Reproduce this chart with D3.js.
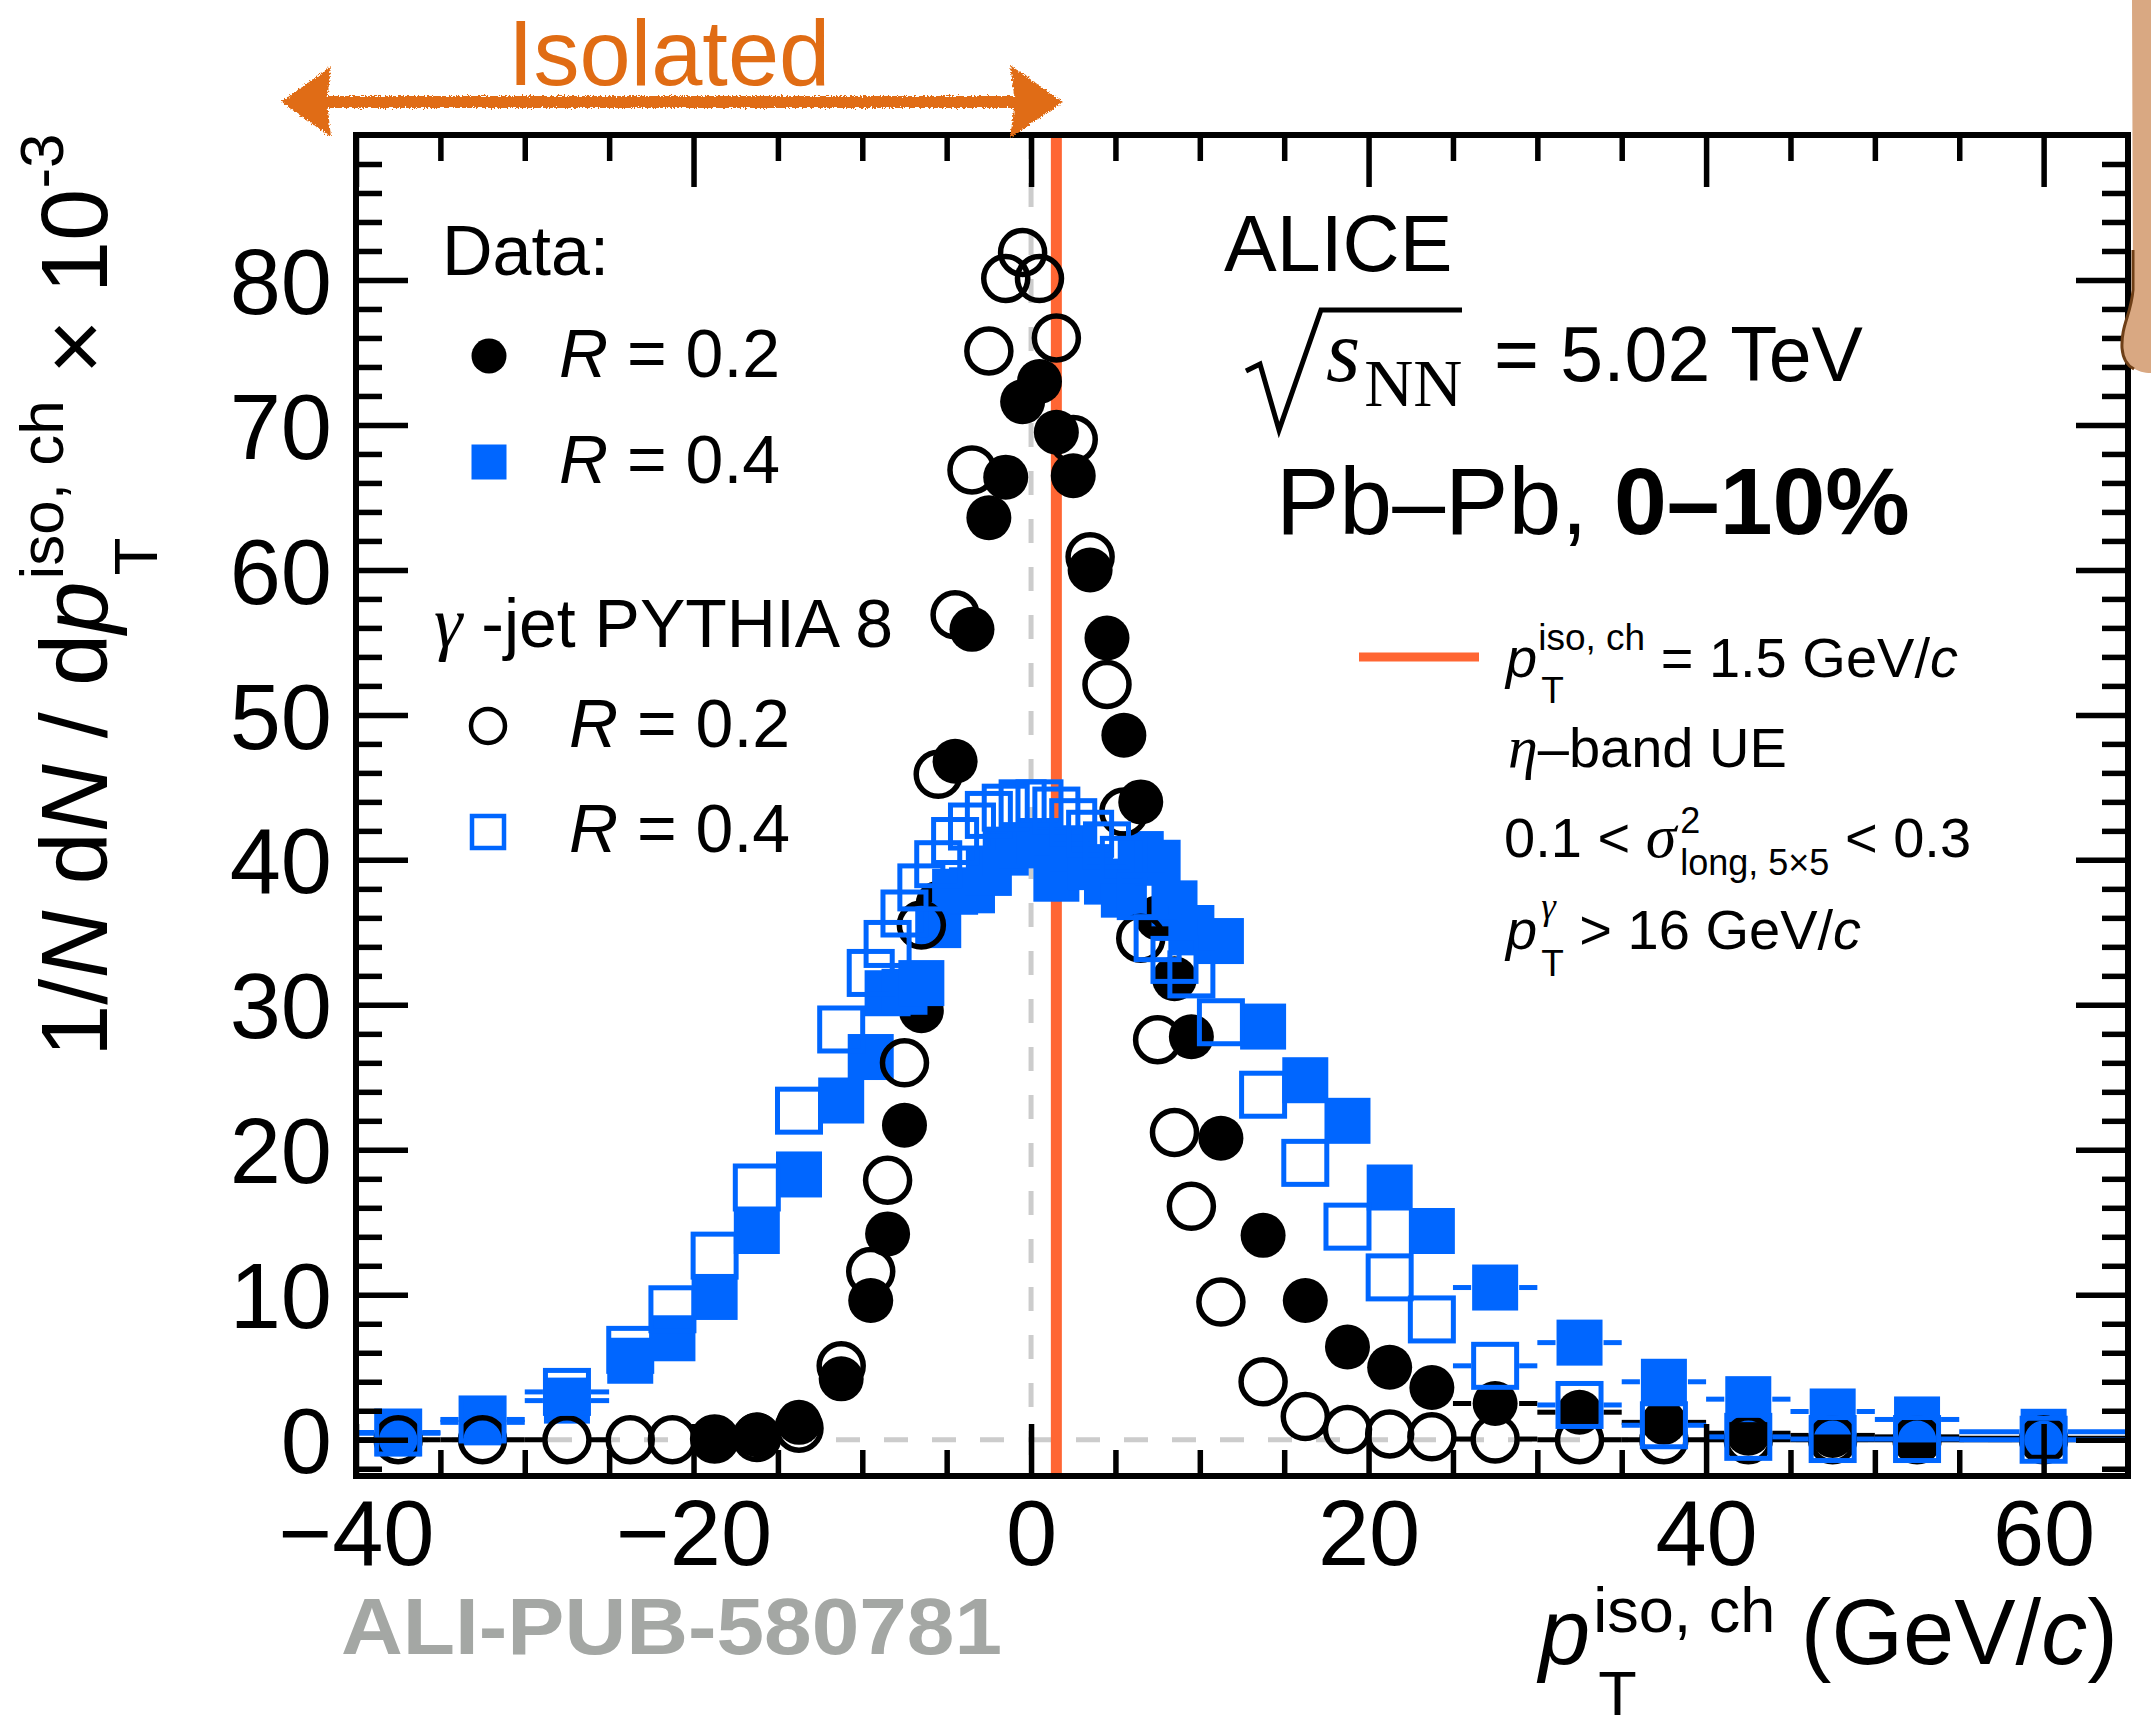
<!DOCTYPE html>
<html>
<head>
<meta charset="utf-8">
<script src="https://cdn.jsdelivr.net/npm/d3@7"></script>
<style>
  html, body { margin: 0; padding: 0; background: #ffffff; }
  svg { display: block; }
  text { font-family: "Liberation Sans", Arial, Helvetica, sans-serif; white-space: pre; }
</style>
</head>
<body>
<svg id="chart" width="2151" height="1728"></svg>
<script>
// ---------------- DATA ----------------
const binCenters = [-37.5, -32.5, -27.5,
  -23.75, -21.25, -18.75, -16.25, -13.75, -11.25,
  -9.5, -8.5, -7.5, -6.5, -5.5, -4.5, -3.5, -2.5, -1.5, -0.5,
  0.5, 1.5, 2.5, 3.5, 4.5, 5.5, 6.5, 7.5, 8.5, 9.5,
  11.25, 13.75, 16.25, 18.75, 21.25, 23.75,
  27.5, 32.5, 37.5, 42.5, 47.5, 52.5,
  60];
const binHalfWidths = [2.5, 2.5, 2.5,
  1.25, 1.25, 1.25, 1.25, 1.25, 1.25,
  0.5, 0.5, 0.5, 0.5, 0.5, 0.5, 0.5, 0.5, 0.5, 0.5,
  0.5, 0.5, 0.5, 0.5, 0.5, 0.5, 0.5, 0.5, 0.5, 0.5,
  1.25, 1.25, 1.25, 1.25, 1.25, 1.25,
  2.5, 2.5, 2.5, 2.5, 2.5, 2.5,
  5];
// Data, R = 0.2 (filled circles); null = no point
const dataR02 = [null, null, null,
  null, null, 0.05, 0.34, 1.2, 4.2,
  9.6, 14.2, 21.7, 29.6, 37.0, 46.8, 55.9, 63.6, 66.4, 71.6,
  73.0, 69.5, 66.5, 60.0, 55.3, 48.6, 44.0, 36.0, 31.8, 27.8,
  20.8, 14.1, 9.6, 6.4, 5.0, 3.6,
  2.5, 1.9, 1.2, 0.45, 0.3, 0.2,
  0.1];
// Data, R = 0.4 (filled squares)
const dataR04 = [0.45, 1.2, 2.7,
  5.45, 7.0, 9.85, 14.4, 18.3, 23.4,
  26.4, 30.8, 30.9, 31.5, 35.5, 37.8, 37.9, 39.1, 40.5, 41.0,
  41.3, 38.7, 40.8, 39.5, 38.5, 37.6, 40.4, 39.8, 37.0, 35.3,
  34.4, 28.5, 24.8, 22.0, 17.4, 14.4,
  10.5, 6.7, 4.0, 2.8, 1.95, 1.4,
  0.55];
// gamma-jet PYTHIA 8, R = 0.2 (open circles)
const pythiaR02 = [0, 0, 0,
  0, 0, 0.05, 0.15, 0.8, 5.1,
  11.6, 17.9, 26.0, 35.5, 45.9, 56.9, 66.9, 75.1, 80.1, 81.9,
  80.1, 76.0, 69.0, 60.9, 52.1, 43.3, 34.6, 27.6, 21.2, 16.1,
  9.5, 4.0, 1.6, 0.7, 0.4, 0.2,
  0.05, 0, 0, 0, 0, 0,
  0];
// gamma-jet PYTHIA 8, R = 0.4 (open squares)
const pythiaR04 = [0.5, 1.4, 3.3,
  6.2, 9.0, 12.7, 17.4, 22.7, 28.3,
  32.2, 34.2, 36.3, 38.1, 39.7, 41.3, 42.3, 43.1, 43.6, 43.9,
  43.9, 43.4, 42.6, 41.8, 41.0, 40.0, 37.5, 34.6, 33.1, 32.1,
  28.8, 23.8, 19.1, 14.7, 11.2, 8.3,
  5.1, 2.4, 1.0, 0.2, 0.05, 0.05,
  0];
const xDomain = [-40, 65];
const yDomain = [-2.5, 90];
const xMajorTicks = [-40, -20, 0, 20, 40, 60];
const xMinorTicks = [-35, -30, -25, -15, -10, -5, 5, 10, 15, 25, 30, 35, 45, 50, 55];
const yMajorTicks = [0, 10, 20, 30, 40, 50, 60, 70, 80];
const yMinorTicks = [-2, 2, 4, 6, 8, 12, 14, 16, 18, 22, 24, 26, 28, 32, 34, 36, 38, 42, 44, 46, 48,
  52, 54, 56, 58, 62, 64, 66, 68, 72, 74, 76, 78, 82, 84, 86, 88];
const isoCut = 1.5;

// ---------------- SETUP ----------------
const BLUE = "#0066ff";
const ORANGE = "#ff6633";
const ARROW = "#e06c14";
const svg = d3.select("#chart");
const L = 356, R = 2128, T = 135, B = 1476;
const x = d3.scaleLinear().domain(xDomain).range([L, R]);
const y = d3.scaleLinear().domain(yDomain).range([B, T]);

const defs = svg.append("defs");
defs.append("clipPath").attr("id", "plotclip")
  .append("rect").attr("x", L).attr("y", T).attr("width", R - L).attr("height", B - T);
const rough = defs.append("filter").attr("id", "rough")
  .attr("x", "-5%").attr("y", "-30%").attr("width", "110%").attr("height", "160%");
rough.append("feTurbulence").attr("type", "fractalNoise").attr("baseFrequency", "0.55")
  .attr("numOctaves", 2).attr("seed", 4).attr("result", "noise");
rough.append("feDisplacementMap").attr("in", "SourceGraphic").attr("in2", "noise")
  .attr("scale", 6).attr("xChannelSelector", "R").attr("yChannelSelector", "G");

// text helpers: every chain is one <text> made of positioned <tspan>s
function styleT(t, s) {
  t.attr("font-size", s.size).attr("fill", s.fill || "#000");
  if (s.italic) t.attr("font-style", "italic");
  if (s.bold) t.attr("font-weight", "bold");
  if (s.family) t.attr("font-family", s.family);
  return t;
}
function chain(g, x0, y0, segs) {
  const t = g.append("text");
  let cx = x0;
  const span = (p, px) => styleT(t.append("tspan").attr("x", px).attr("y", y0 + (p.dy || 0)).text(p.t), p);
  for (const s of segs) {
    if (s.stack) {
      let wmax = 0;
      for (const p of s.stack) {
        const ts = span(p, cx + (p.dx || 0));
        wmax = Math.max(wmax, (p.dx || 0) + ts.node().getComputedTextLength());
      }
      cx += wmax;
    } else {
      const ts = span(s, cx + (s.dx || 0));
      cx += (s.dx || 0) + ts.node().getComputedTextLength();
    }
  }
  return t;
}
const SERIF = "'Liberation Serif', 'DejaVu Serif', serif";

// ---------------- REFERENCE LINES ----------------
const refG = svg.append("g").attr("clip-path", "url(#plotclip)");
refG.append("line").attr("x1", L).attr("x2", R).attr("y1", y(0)).attr("y2", y(0))
  .attr("stroke", "#cccccc").attr("stroke-width", 5).attr("stroke-dasharray", "24,24");
refG.append("line").attr("x1", x(0)).attr("x2", x(0)).attr("y1", T).attr("y2", B)
  .attr("stroke", "#cccccc").attr("stroke-width", 5).attr("stroke-dasharray", "24,24");
refG.append("line").attr("x1", x(isoCut)).attr("x2", x(isoCut)).attr("y1", T).attr("y2", B)
  .attr("stroke", ORANGE).attr("stroke-width", 11);

// ---------------- SERIES ----------------
const plotG = svg.append("g").attr("clip-path", "url(#plotclip)");
function points(vals) {
  return binCenters.map((c, i) => ({ c, hw: binHalfWidths[i], v: vals[i] })).filter(d => d.v !== null);
}
function drawSeries(vals, color, marker) {
  const pts = points(vals);
  const half = 24; // marker half-extent: error bars are not drawn through the marker
  const segs = [];
  pts.forEach(d => {
    const xc = x(d.c), xl = x(d.c - d.hw), xr = x(d.c + d.hw);
    if (xc - half > xl) segs.push({ x1: xl, x2: xc - half, yv: y(d.v) });
    if (xr > xc + half) segs.push({ x1: xc + half, x2: xr, yv: y(d.v) });
  });
  const g = plotG.append("g");
  g.selectAll("line").data(segs).join("line")
    .attr("x1", d => d.x1).attr("x2", d => d.x2)
    .attr("y1", d => d.yv).attr("y2", d => d.yv)
    .attr("stroke", color).attr("stroke-width", 5);
  if (marker === "fcircle") {
    g.selectAll("circle").data(pts).join("circle")
      .attr("cx", d => x(d.c)).attr("cy", d => y(d.v)).attr("r", 22.5).attr("fill", color);
  } else if (marker === "ocircle") {
    g.selectAll("circle").data(pts).join("circle")
      .attr("cx", d => x(d.c)).attr("cy", d => y(d.v)).attr("r", 22).attr("fill", "none")
      .attr("stroke", color).attr("stroke-width", 5.5);
  } else if (marker === "fsquare") {
    g.selectAll("rect").data(pts).join("rect")
      .attr("x", d => x(d.c) - 23).attr("y", d => y(d.v) - 23).attr("width", 46).attr("height", 46)
      .attr("fill", color);
  } else {
    g.selectAll("rect").data(pts).join("rect")
      .attr("x", d => x(d.c) - 21.5).attr("y", d => y(d.v) - 21.5).attr("width", 43).attr("height", 43)
      .attr("fill", "none").attr("stroke", color).attr("stroke-width", 5);
  }
}
drawSeries(dataR02, "#000000", "fcircle");
drawSeries(dataR04, BLUE, "fsquare");
drawSeries(pythiaR02, "#000000", "ocircle");
drawSeries(pythiaR04, BLUE, "osquare");

// ---------------- AXES & FRAME ----------------
function styleAxis(sel) {
  sel.select(".domain").remove();
  sel.selectAll(".tick line").attr("stroke", "#000").attr("stroke-width", 5.5);
  sel.selectAll(".tick text").attr("fill", "#000").attr("font-size", 92)
    .attr("font-family", "'Liberation Sans', Arial, Helvetica, sans-serif");
}
const fmt = d3.format("d");
svg.append("g").attr("transform", `translate(0,${B})`)
  .call(d3.axisBottom(x).tickValues(xMajorTicks).tickSize(-52).tickPadding(24).tickFormat(fmt))
  .call(styleAxis);
svg.append("g").attr("transform", `translate(0,${B})`)
  .call(d3.axisBottom(x).tickValues(xMinorTicks).tickSize(-26).tickFormat(""))
  .call(styleAxis);
svg.append("g").attr("transform", `translate(0,${T})`)
  .call(d3.axisTop(x).tickValues(xMajorTicks).tickSize(-52).tickFormat(""))
  .call(styleAxis);
svg.append("g").attr("transform", `translate(0,${T})`)
  .call(d3.axisTop(x).tickValues(xMinorTicks).tickSize(-26).tickFormat(""))
  .call(styleAxis);
const yl = svg.append("g").attr("transform", `translate(${L},0)`)
  .call(d3.axisLeft(y).tickValues(yMajorTicks).tickSize(-52).tickPadding(24).tickFormat(fmt))
  .call(styleAxis);
yl.selectAll(".tick text").attr("dy", "0.36em");
svg.append("g").attr("transform", `translate(${L},0)`)
  .call(d3.axisLeft(y).tickValues(yMinorTicks).tickSize(-26).tickFormat(""))
  .call(styleAxis);
svg.append("g").attr("transform", `translate(${R},0)`)
  .call(d3.axisRight(y).tickValues(yMajorTicks).tickSize(-52).tickFormat(""))
  .call(styleAxis);
svg.append("g").attr("transform", `translate(${R},0)`)
  .call(d3.axisRight(y).tickValues(yMinorTicks).tickSize(-26).tickFormat(""))
  .call(styleAxis);
svg.append("rect").attr("x", L).attr("y", T).attr("width", R - L).attr("height", B - T)
  .attr("fill", "none").attr("stroke", "#000").attr("stroke-width", 6);

// ---------------- AXIS TITLES ----------------
const ytG = svg.append("g").attr("transform", "translate(107,1057) rotate(-90)");
chain(ytG, 0, 0, [
  { t: "1/", size: 94 }, { t: "N", size: 94, italic: true }, { t: " d", size: 94 },
  { t: "N", size: 94, italic: true }, { t: " / d", size: 94 }, { t: "p", size: 94, italic: true },
  { stack: [{ t: "iso, ch", size: 62, dy: -44, dx: 2 }, { t: "T", size: 62, dy: 50, dx: 6 }] },
  { t: " × 10", size: 94 }, { t: "-3", size: 62, dy: -44 }
]);
const xtG = svg.append("g");
chain(xtG, 1539, 1664, [
  { t: "p", size: 92, italic: true },
  { stack: [{ t: "iso, ch", size: 63, dy: -32, dx: 3 }, { t: "T", size: 63, dy: 51, dx: 8 }] },
  { t: " (GeV/", size: 92 }, { t: "c", size: 92, italic: true }, { t: ")", size: 92 }
]);
svg.append("text").attr("x", 341).attr("y", 1654).attr("font-size", 79)
  .attr("font-family", "'Liberation Mono', 'DejaVu Sans Mono', monospace").attr("font-weight", "bold")
  .attr("fill", "#a4a7a4").attr("textLength", 661).attr("lengthAdjust", "spacingAndGlyphs")
  .text("ALI-PUB-580781");

// ---------------- LEFT LEGEND ----------------
const lg = svg.append("g");
chain(lg, 442, 275, [{ t: "Data:", size: 70 }]);
lg.append("circle").attr("cx", 489).attr("cy", 356).attr("r", 17.5).attr("fill", "#000");
chain(lg, 559, 377, [{ t: "R", size: 68, italic: true }, { t: " = 0.2", size: 68 }]);
lg.append("rect").attr("x", 489 - 17.5).attr("y", 462 - 17.5).attr("width", 35).attr("height", 35).attr("fill", BLUE);
chain(lg, 559, 483, [{ t: "R", size: 68, italic: true }, { t: " = 0.4", size: 68 }]);
chain(lg, 434, 647, [{ t: "γ", size: 72, italic: true, family: SERIF }, { t: " -jet PYTHIA 8", size: 68 }]);
lg.append("circle").attr("cx", 488).attr("cy", 726).attr("r", 17).attr("fill", "none")
  .attr("stroke", "#000").attr("stroke-width", 4.5);
chain(lg, 569, 747, [{ t: "R", size: 68, italic: true }, { t: " = 0.2", size: 68 }]);
lg.append("rect").attr("x", 488 - 16).attr("y", 832 - 16).attr("width", 32).attr("height", 32)
  .attr("fill", "none").attr("stroke", BLUE).attr("stroke-width", 4.5);
chain(lg, 569, 852, [{ t: "R", size: 68, italic: true }, { t: " = 0.4", size: 68 }]);

// ---------------- ALICE BLOCK ----------------
const ag = svg.append("g");
chain(ag, 1224, 271, [{ t: "ALICE", size: 79 }]);
ag.append("path").attr("d", "M1246,371 L1260,364 L1279,430 L1321,310 L1462,310")
  .attr("fill", "none").attr("stroke", "#000").attr("stroke-width", 5).attr("stroke-linejoin", "miter");
chain(ag, 1326, 381, [
  { t: "s", size: 88, italic: true, family: SERIF },
  { t: "NN", size: 68, family: SERIF, dy: 25, dx: 4 }
]);
chain(ag, 1494, 381, [{ t: "= 5.02 TeV", size: 77 }]);
chain(ag, 1276, 534, [{ t: "Pb–Pb, ", size: 95 }, { t: "0–10%", size: 95, bold: true }]);

// ---------------- RIGHT LEGEND ----------------
const rg = svg.append("g");
rg.append("line").attr("x1", 1359).attr("x2", 1479).attr("y1", 657).attr("y2", 657)
  .attr("stroke", ORANGE).attr("stroke-width", 9);
chain(rg, 1506, 677, [
  { t: "p", size: 56, italic: true },
  { stack: [{ t: "iso, ch", size: 37, dy: -27, dx: 1 }, { t: "T", size: 37, dy: 26, dx: 4 }] },
  { t: " = 1.5 GeV/", size: 56 }, { t: "c", size: 56, italic: true }
]);
chain(rg, 1508, 767, [{ t: "η", size: 60, italic: true, family: SERIF }, { t: "–band UE", size: 56 }]);
chain(rg, 1504, 857, [
  { t: "0.1 < ", size: 56 }, { t: "σ", size: 62, italic: true, family: SERIF },
  { stack: [{ t: "2", size: 36, dy: -24, dx: 4 }, { t: "long, 5×5", size: 36, dy: 18, dx: 4 }] },
  { t: " < 0.3", size: 56 }
]);
chain(rg, 1506, 949, [
  { t: "p", size: 56, italic: true },
  { stack: [{ t: "γ", size: 37, dy: -30, dx: 4, italic: true, family: SERIF }, { t: "T", size: 37, dy: 27, dx: 4 }] },
  { t: " > 16 GeV/", size: 56 }, { t: "c", size: 56, italic: true }
]);

// ---------------- ISOLATED ARROW ----------------
const arr = svg.append("g").attr("filter", "url(#rough)").attr("fill", ARROW);
arr.append("rect").attr("x", 318).attr("y", 96).attr("width", 702).attr("height", 12);
arr.append("path").attr("d", "M281,102 L331,66 L327,102 L331,137 Z");
arr.append("path").attr("d", "M1063,102 L1010,65 L1015,102 L1010,138 Z");
svg.append("text").attr("x", 508).attr("y", 85).attr("font-size", 92).attr("fill", ARROW).text("Isolated");

// ---------------- RIGHT EDGE MARK ----------------
svg.append("path")
  .attr("d", "M2151,0 L2132,0 L2133,290 C2131,315 2121,325 2122,348 C2123,366 2138,373 2151,373 Z")
  .attr("fill", "#d9a882");
svg.append("path")
  .attr("d", "M2133,250 L2133,290 C2131,315 2121,325 2122,348 C2123,360 2128,366 2134,369")
  .attr("fill", "none").attr("stroke", "#6e3f17").attr("stroke-width", 3);
</script>
</body>
</html>
